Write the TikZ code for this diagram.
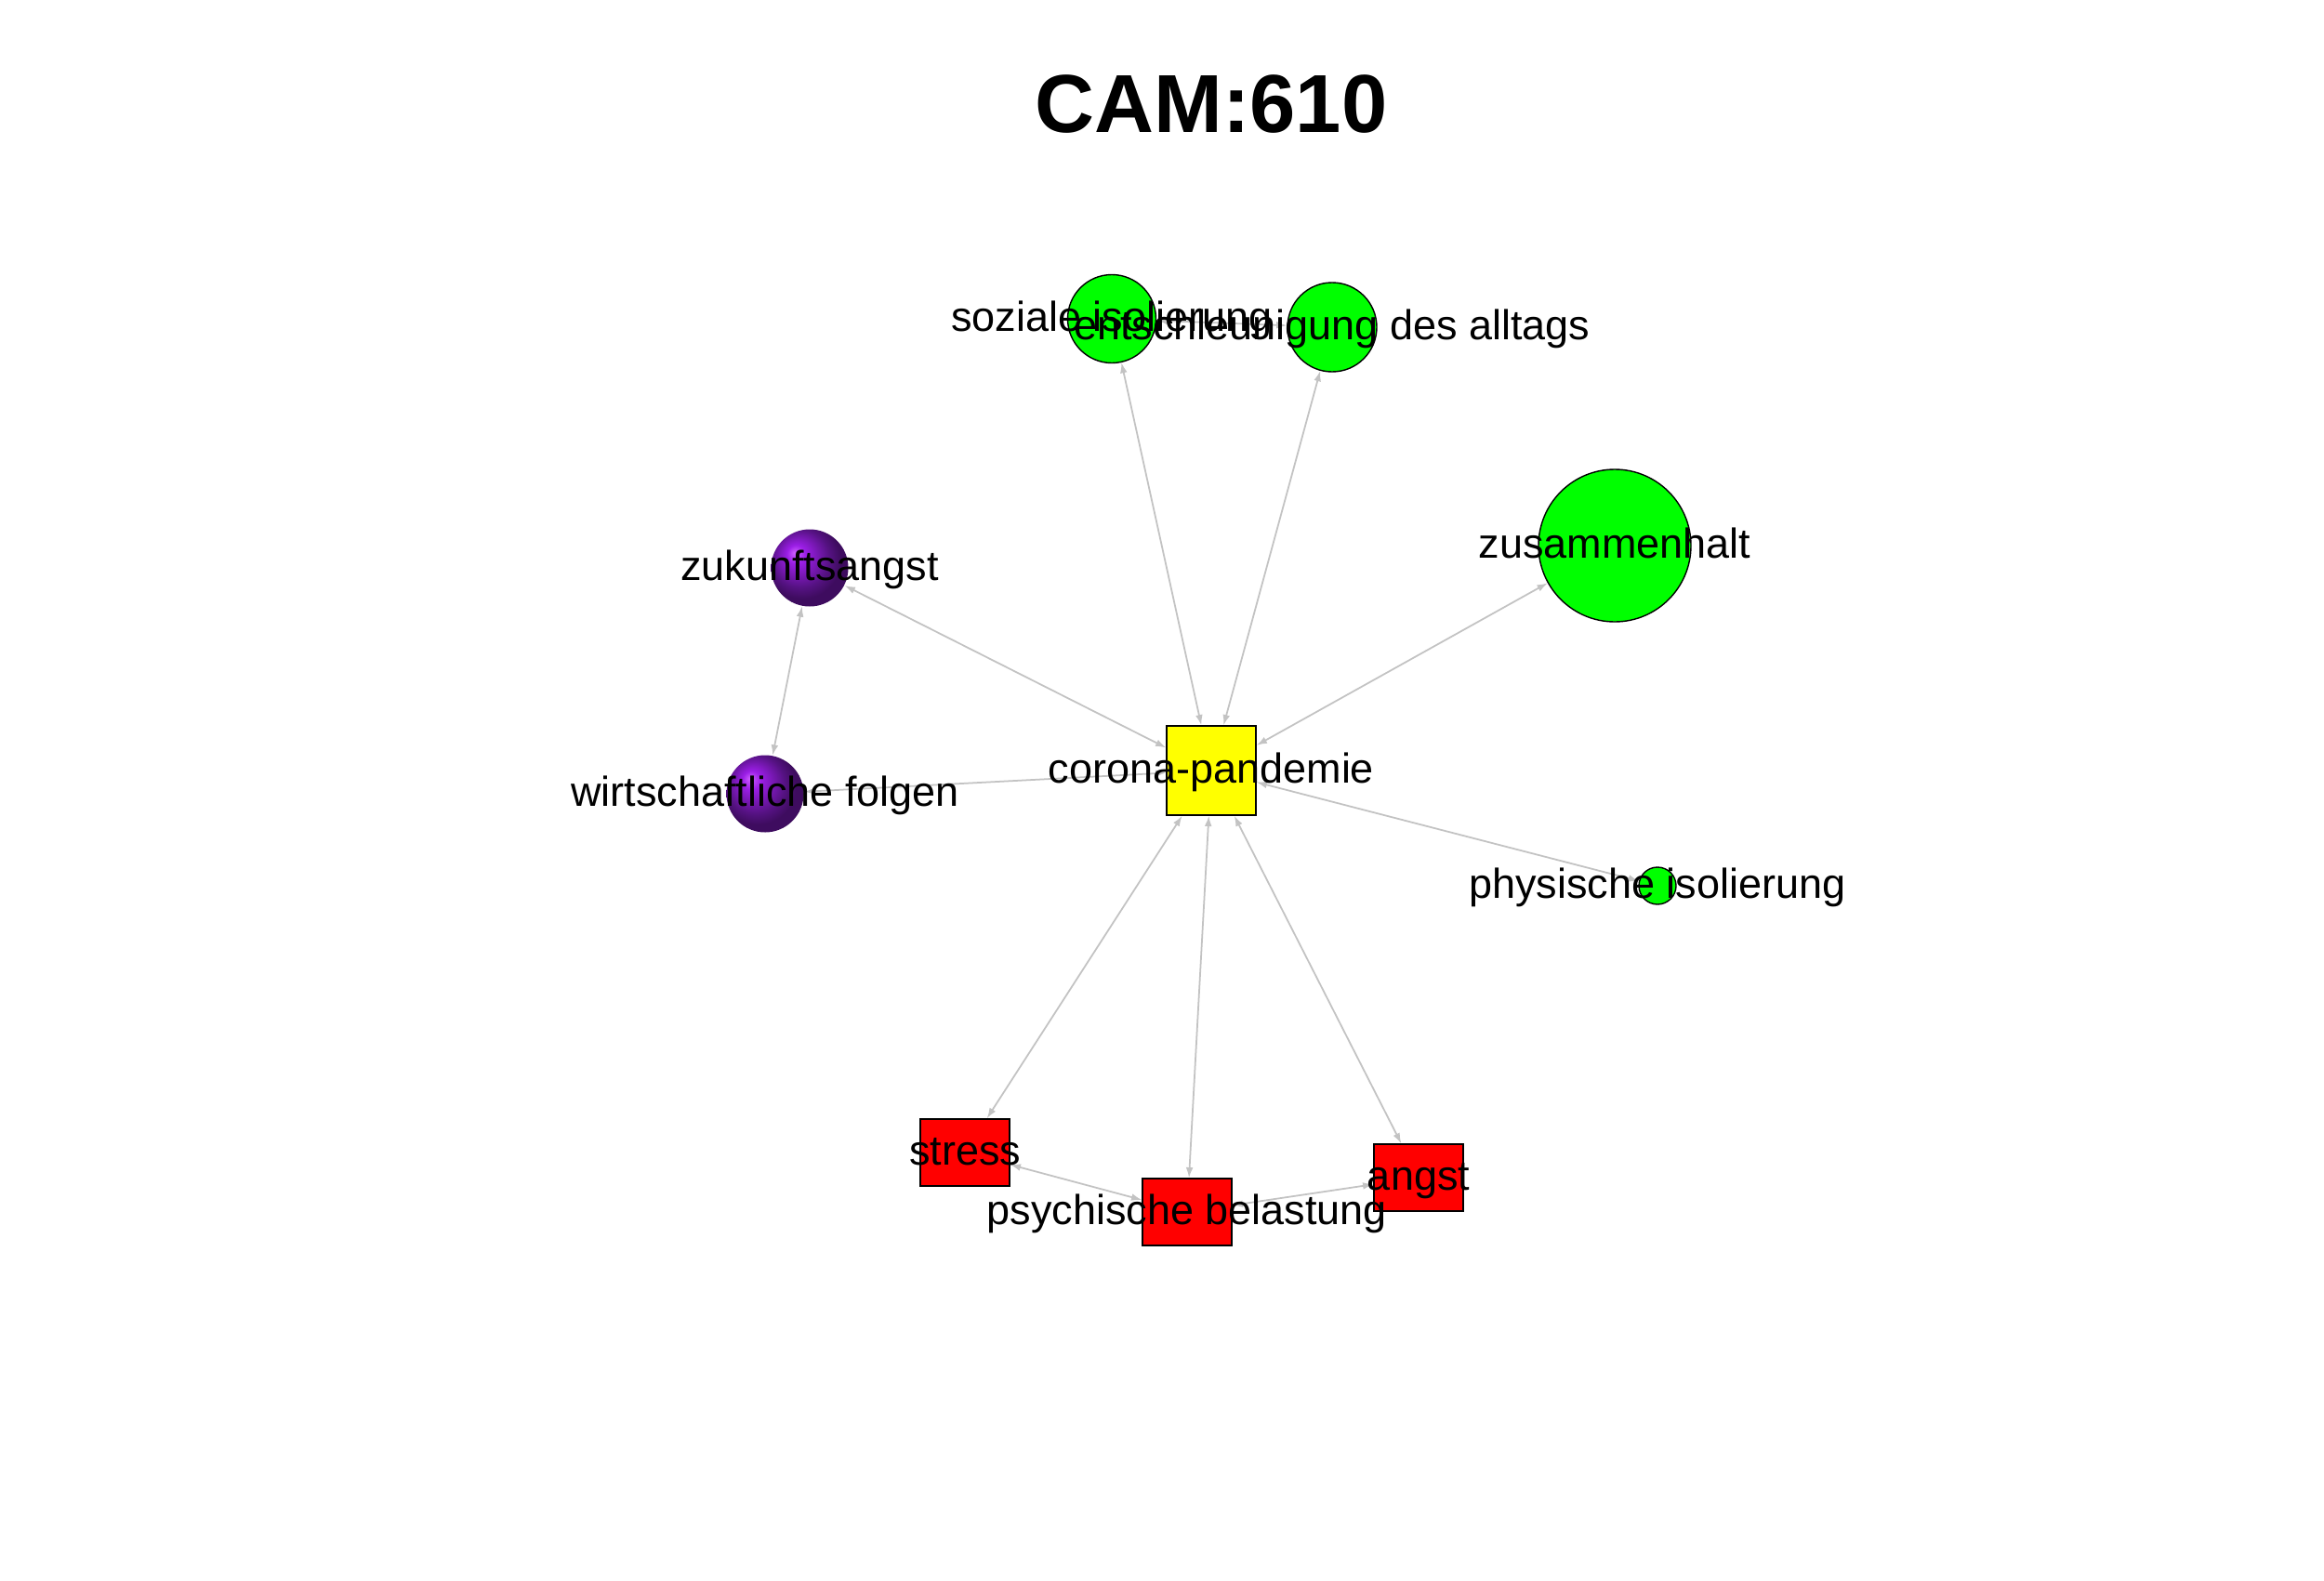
\documentclass[tikz,border=0pt]{standalone}
\usepackage{fontspec}
\setmainfont{Liberation Sans}
\usetikzlibrary{arrows.meta}
\definecolor{nodegreen}{RGB}{0,255,0}
\definecolor{nodeyellow}{RGB}{255,255,0}
\definecolor{nodered}{RGB}{255,0,0}
\definecolor{edgegray}{RGB}{195,195,195}
\definecolor{purplelight}{RGB}{205,95,255}
\definecolor{purplemid}{RGB}{155,30,230}
\definecolor{purpledark}{RGB}{85,18,130}
\definecolor{purpledeep}{RGB}{62,12,95}
\pgfdeclareradialshading{purpleball}{\pgfqpoint{-10bp}{10bp}}{color(0bp)=(purplelight); color(6bp)=(purplemid); color(19bp)=(purpledark); color(25bp)=(purpledeep); color(50bp)=(purpledeep)}
\pgfdeclarelayer{background}
\pgfsetlayers{background,main}
\begin{document}
\begin{tikzpicture}[x=1cm,y=1cm,
                positive/.style = {circle, draw=black, line width=0.4pt, fill=nodegreen, inner sep=0pt},
                negative/.style = {rectangle, draw=black, line width=0.4pt, fill=nodered, inner sep=0pt, minimum width=0.96cm, minimum height=0.72cm},
                neutral/.style = {rectangle, draw=black, line width=0.4pt, fill=nodeyellow, inner sep=0pt, minimum size=0.96cm},
                ambivalent/.style = {circle, shading=purpleball, inner sep=0pt, minimum size=0.83cm},
                lbl/.style = {inner sep=0pt, text height=3.7mm, text depth=1mm, font=\fontsize{12.8pt}{15pt}\selectfont},
                conn/.style = {every edge/.style={draw, edgegray, line width=0.5pt, {Latex[length=3.2pt,width=2.2pt]}-{Latex[length=3.2pt,width=2.2pt]}}}]
                \begin{pgfonlayer}{background}
                    \fill[white] (0,0) rectangle (25,-17);
                \end{pgfonlayer}
                \useasboundingbox (0,0) rectangle (25,-17);
                \node[anchor=base, font=\fontsize{25.2pt}{30pt}\selectfont\bfseries] (title) at (13.03,-1.42) {CAM:610};
                % vertices
                \node[neutral] (corona) at (13.03,-8.29) {};
                \node[positive, minimum size=0.95cm] (soziale) at (11.96,-3.43) {};
                \node[positive, minimum size=0.96cm] (entschl) at (14.33,-3.52) {};
                \node[positive, minimum size=1.64cm] (zusammen) at (17.37,-5.87) {};
                \node[positive, minimum size=0.40cm] (physisch) at (17.83,-9.53) {};
                \node[ambivalent] (zukunft) at (8.71,-6.11) {};
                \node[ambivalent] (wirtschaft) at (8.23,-8.54) {};
                \node[negative] (stress) at (10.38,-12.40) {};
                \node[negative] (psychisch) at (12.77,-13.04) {};
                \node[negative] (angst) at (15.26,-12.67) {};
                % connectors
                \begin{pgfonlayer}{background}
                \path[conn]
                    (corona) edge (soziale)
                    (corona) edge (entschl)
                    (corona) edge (zusammen)
                    (corona) edge (physisch)
                    (corona) edge (zukunft)
                    (corona) edge (wirtschaft)
                    (corona) edge (stress)
                    (corona) edge (psychisch)
                    (corona) edge (angst)
                    (zukunft) edge (wirtschaft)
                    (soziale) edge (entschl)
                    (stress) edge (psychisch)
                    (psychisch) edge (angst);
                \end{pgfonlayer}
                % labels
                \node[lbl] (corona-l) at (corona) {corona-pandemie};
                \node[lbl] (zusammen-l) at (zusammen) {zusammenhalt};
                \node[lbl] (physisch-l) at (physisch) {physische isolierung};
                \node[lbl] (zukunft-l) at (zukunft) {zukunftsangst};
                \node[lbl] (wirtschaft-l) at (wirtschaft) {wirtschaftliche folgen};
                \node[lbl] (stress-l) at (stress) {stress};
                \node[lbl] (psychisch-l) at (psychisch) {psychische belastung};
                \node[lbl] (angst-l) at (angst) {angst};
                \node[lbl] (entschl-l) at (entschl) {entschleunigung des alltags};
                \node[lbl] (soziale-l) at (soziale) {soziale isolierung};
            \end{tikzpicture}
\end{document}
